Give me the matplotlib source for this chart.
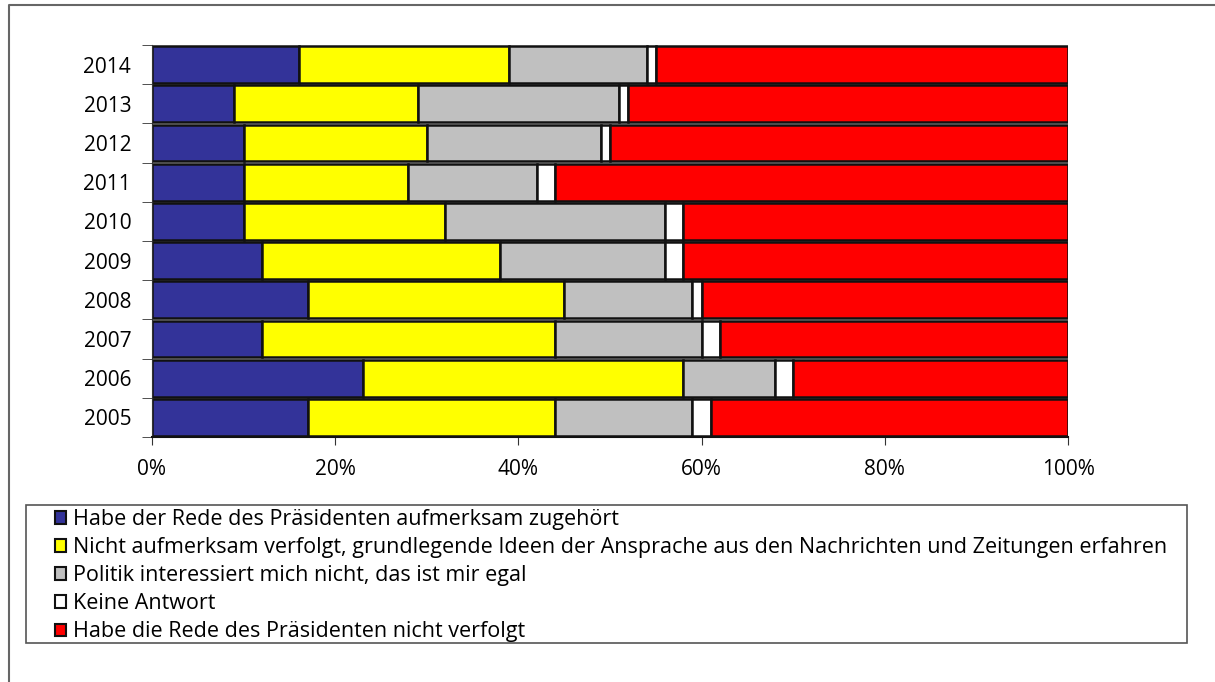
import matplotlib
matplotlib.use('Agg')
import matplotlib.pyplot as plt
from matplotlib.patches import Patch, Rectangle
from matplotlib.lines import Line2D
import numpy as np

plt.rcParams['font.family'] = ['Open Sans', 'DejaVu Sans']

# survey years, bottom to top
years = ['2005', '2006', '2007', '2008', '2009', '2010', '2011', '2012', '2013', '2014']

# shares in percent per answer
aufmerksam = [17, 23, 12, 17, 12, 10, 10, 10, 9, 16]
nachrichten = [27, 35, 32, 28, 26, 22, 18, 20, 20, 23]
egal = [15, 10, 16, 14, 18, 24, 14, 19, 22, 15]
keine_antwort = [2, 2, 2, 1, 2, 2, 2, 1, 1, 1]
nicht_verfolgt = [39, 30, 38, 40, 42, 42, 56, 50, 48, 45]

labels = ['Habe der Rede des Präsidenten aufmerksam zugehört',
          'Nicht aufmerksam verfolgt, grundlegende Ideen der Ansprache aus den Nachrichten und Zeitungen erfahren',
          'Politik interessiert mich nicht, das ist mir egal',
          'Keine Antwort',
          'Habe die Rede des Präsidenten nicht verfolgt']
colors = ['#333399', '#FFFF00', '#C0C0C0', '#FFFFFF', '#FF0000']

series = [aufmerksam, nachrichten, egal, keine_antwort, nicht_verfolgt]

W, H = 1215, 682
fig = plt.figure(figsize=(W / 100, H / 100), dpi=100)
ax = fig.add_axes([152 / W, 1 - 437 / H, 916 / W, 392 / H])

y = np.arange(len(years))
left = np.zeros(len(years))
for vals, c in zip(series, colors):
    vals = np.array(vals, dtype=float)
    ax.barh(y, vals, left=left, height=0.94, color=c, edgecolor='#111111', linewidth=1.8)
    left += vals

ax.set_xlim(0, 100)
ax.set_ylim(-0.5, len(years) - 0.5)
ax.set_xticks(np.arange(0, 101, 20))
ax.set_xticklabels(['%d%%' % v for v in range(0, 101, 20)], fontsize=15)
ax.set_yticks(y)
ax.set_yticklabels(years, fontsize=15)
ax.set_yticks(np.arange(-0.5, len(years), 1), minor=True)
ax.tick_params(axis='y', which='major', length=0, pad=15)
ax.tick_params(axis='y', which='minor', length=7, color='#333333')
ax.tick_params(axis='x', length=6, pad=10, color='#333333')
for s in ['top', 'right']:
    ax.spines[s].set_visible(False)
ax.spines['left'].set_color('#333333')
ax.spines['bottom'].set_color('#111111')
ax.spines['bottom'].set_linewidth(1.5)

handles = [Patch(facecolor=c, edgecolor='#111111', linewidth=1.5) for c in colors]
fig.legend(handles, labels, loc='upper left', bbox_to_anchor=(55 / W, 1 - 509 / H),
           frameon=False, fontsize=15.5, handlelength=0.52, handleheight=0.52,
           handletextpad=0.3, labelspacing=0.33, borderpad=0, borderaxespad=0)
fig.add_artist(Rectangle((26 / W, 1 - 643 / H), 1161 / W, 138 / H, transform=fig.transFigure,
                         fill=False, edgecolor='#555555', linewidth=1.2))

# outer border of the original graphic
fig.add_artist(Line2D([9 / W, 9 / W, 1], [0, 1 - 5 / H, 1 - 5 / H], transform=fig.transFigure,
                      color='#666666', linewidth=1.5))

fig.savefig('out.png', dpi=100)
